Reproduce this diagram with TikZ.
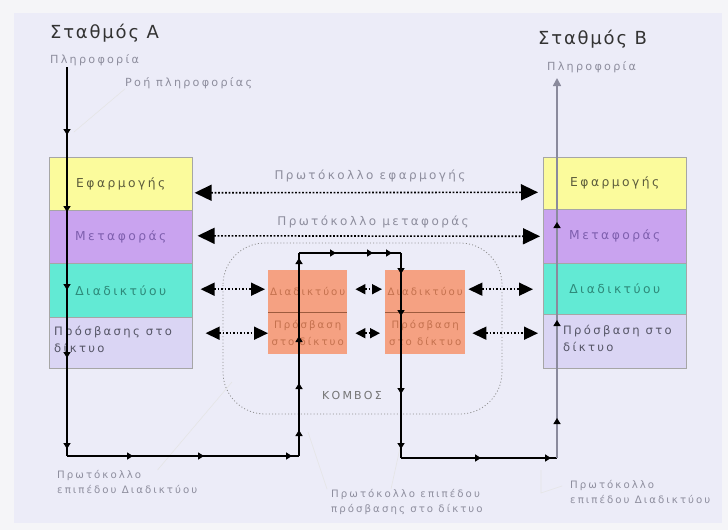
\documentclass[tikz,border=0pt]{standalone}
\usepackage{fontspec}
\setmainfont{DejaVu Sans}
\newfontfamily\lbl{DejaVu Sans}[LetterSpace=20]
\newfontfamily\ttl{DejaVu Sans}[LetterSpace=10]
\usetikzlibrary{arrows.meta,decorations.markings,calc}

\definecolor{pagebg}{HTML}{F5F5F8}
\definecolor{panelbg}{HTML}{ECECF8}
\definecolor{appfill}{HTML}{FBFB9C}
\definecolor{trfill}{HTML}{C9A3EF}
\definecolor{netfill}{HTML}{62EAD4}
\definecolor{accfill}{HTML}{DAD5F4}
\definecolor{nodefill}{HTML}{F5A182}
\definecolor{apptext}{HTML}{5C5C3C}
\definecolor{trtext}{HTML}{7E5FAE}
\definecolor{nettext}{HTML}{2E8A7A}
\definecolor{acctext}{HTML}{555566}
\definecolor{nodetext}{HTML}{C4714E}
\definecolor{softtext}{HTML}{8E8E9E}
\definecolor{flowgray}{HTML}{8A8A9C}

\tikzset{
  layer/.style={draw=black!35, line width=0.6pt, minimum width=143pt, inner sep=0pt,
    anchor=north west, font=\lbl\fontsize{12.3}{14}\selectfont},
  nodebox/.style={fill=nodefill, draw=none, minimum height=42pt, inner sep=0pt,
    anchor=north west, align=center, text=nodetext, font=\lbl\fontsize{10.2}{17}\selectfont},
  acclabel/.style={anchor=north west, align=left, inner sep=0pt, text=acctext,
    font=\lbl\fontsize{11.6}{17}\selectfont},
  note/.style={text=softtext, inner sep=0pt, font=\lbl\fontsize{10.2}{15}\selectfont},
  peerlabel/.style={text=softtext, inner sep=0pt, font=\lbl\fontsize{12}{14}\selectfont},
  title/.style={text=black!80, inner sep=0pt, font=\ttl\fontsize{18}{21}\selectfont},
  bigtip/.tip={Triangle[length=17pt,width=16pt]},
  midtip/.tip={Triangle[length=14pt,width=13pt]},
  smalltip/.tip={Triangle[length=10pt,width=10pt]},
  fm/.tip={Triangle[length=6pt,width=7pt]},
  peer/.style={line width=1.6pt, dash pattern=on 1.6pt off 1.9pt},
  flow/.style={line width=1.6pt, draw=black, postaction={decorate}},
  faint/.style={draw=black!10, line width=0.6pt},
}

\begin{document}
\begin{tikzpicture}[x=1pt,y=-1pt]
  % page and panel
  \fill[pagebg] (0,0) rectangle (728,530);
  \fill[panelbg] (14,13) rectangle (722,523);
  \useasboundingbox (0,0) rectangle (728,530);

  % station A stack
  \node[layer, fill=appfill, minimum height=53pt, text=apptext] (a1) at (49,157) {Εφαρμογής};
  \node[layer, fill=trfill,  minimum height=53pt, text=trtext]  (a2) at (49,210) {Μεταφοράς};
  \node[layer, fill=netfill, minimum height=54pt, text=nettext] (a3) at (49,263) {Διαδικτύου};
  \node[layer, fill=accfill, minimum height=51pt] (a4) at (49,317) {};
  \node[acclabel] (a4t) at (54,326) {Πρόσβασης στο\\δίκτυο};

  % station B stack
  \node[layer, fill=appfill, minimum height=52pt, text=apptext] (b1) at (543,157) {Εφαρμογής};
  \node[layer, fill=trfill,  minimum height=54pt, text=trtext]  (b2) at (543,209) {Μεταφοράς};
  \node[layer, fill=netfill, minimum height=51pt, text=nettext] (b3) at (543,263) {Διαδικτύου};
  \node[layer, fill=accfill, minimum height=54pt] (b4) at (543,314) {};
  \node[acclabel] (b4t) at (563,325) {Πρόσβαση στο\\δίκτυο};

  % router
  \draw[black!45, line width=0.8pt, dash pattern=on 1pt off 2.2pt, rounded corners=42pt]
    (223,243) rectangle (502,414);
  \node[text=black!55, inner sep=0pt, font=\lbl\fontsize{11}{13}\selectfont] (knode) at (352,395) {ΚΟΜΒΟΣ};

  \node[nodebox, minimum width=79pt] (c1) at (268,270) {Διαδικτύου};
  \node[nodebox, minimum width=79pt] (c2) at (268,312) {Πρόσβαση\\στο δίκτυο};
  \node[nodebox, minimum width=80pt] (d1) at (385,270) {Διαδικτύου};
  \node[nodebox, minimum width=80pt] (d2) at (385,312) {Πρόσβαση\\στο δίκτυο};
  \draw[nodetext!80!black, line width=0.8pt] (c1.south west) -- (c1.south east);
  \draw[nodetext!80!black, line width=0.8pt] (d1.south west) -- (d1.south east);

  % titles and notes
  \node[title, anchor=west] (sta) at (50,33) {Σταθμός Α};
  \node[title, anchor=west] (stb) at (538,39) {Σταθμός Β};
  \node[note, anchor=west, font=\lbl\fontsize{11.2}{13}\selectfont] (infa) at (50,60) {Πληροφορία};
  \node[note, anchor=west, font=\lbl\fontsize{11.2}{13}\selectfont] (infb) at (547,67) {Πληροφορία};
  \node[note, anchor=west, font=\lbl\fontsize{11.2}{13}\selectfont] (rflow) at (125,83) {Ροή πληροφορίας};
  \node[peerlabel, anchor=south] (papp) at (370,182) {Πρωτόκολλο εφαρμογής};
  \node[peerlabel, anchor=south] (ptr) at (373,228) {Πρωτόκολλο μεταφοράς};
  \node[note, anchor=north west, align=left] (pnet1) at (57,470) {Πρωτόκολλο\\επιπέδου Διαδικτύου};
  \node[note, anchor=north west, align=left] (pacc) at (331,489) {Πρωτόκολλο επιπέδου\\πρόσβασης στο δίκτυο};
  \node[note, anchor=north west, align=left] (pnet2) at (570,480) {Πρωτόκολλο\\επιπέδου Διαδικτύου};

  % faint callout lines
  \draw[faint] (rflow.south west) -- (74,132);
  \draw[faint] ([xshift=-40pt]pnet1.north east) -- (232,382);
  \draw[faint] ([xshift=-4pt]pacc.north west) -- (308,432);
  \draw[faint] ([xshift=60pt]pacc.north west) -- (400,448);
  \draw[faint] ([xshift=-8pt,yshift=-6pt]pnet2.north west) -- (541,493) -- (541,470);

  % peer protocol arrows
  \draw[peer, {bigtip}-{bigtip}] ($(a1.east)+(2,9)$) -- ($(b1.west)+(-5,9)$);
  \draw[peer, {bigtip}-{bigtip}] ($(a2.east)+(5,-1)$) -- ($(b2.west)+(-3,0)$);
  \draw[peer, {midtip}-{midtip}] ($(a3.east |- c1.west)+(8,-2)$) -- ($(c1.west)+(-3,-2)$);
  \draw[peer, {smalltip}-{smalltip}] ($(c1.east)+(8,-2)$) -- ($(d1.west)+(-3,-2)$);
  \draw[peer, {midtip}-{midtip}] ($(d1.east)+(3,-2)$) -- ($(b3.west |- d1.east)+(-10,-2)$);
  \draw[peer, {midtip}-{midtip}] ($(a4.east |- c2.west)+(13,0)$) -- ($(c2.west)+(0,0)$);
  \draw[peer, {smalltip}-{smalltip}] ($(c2.east)+(8,0)$) -- ($(d2.west)+(-5,0)$);
  \draw[peer, {midtip}-{midtip}] ($(d2.east)+(7,0)$) -- ($(b4.west |- d2.east)+(-5,0)$);

  % information flow path
  \coordinate (f0) at (67,67);
  \coordinate (f1) at (67,456);
  \coordinate (f2) at (299,456);
  \coordinate (f3) at (299,253);
  \coordinate (f4) at (401,253);
  \coordinate (f5) at (401,458);
  \coordinate (f6) at (557,458);
  \coordinate (f7) at (557,78);

  \draw[flow, decoration={markings,
      mark=at position 68pt with {\arrow{fm}},
      mark=at position 145pt with {\arrow{fm}},
      mark=at position 223pt with {\arrow{fm}},
      mark=at position 291pt with {\arrow{fm}},
      mark=at position 382pt with {\arrow{fm}}}] (f0) -- (f1);
  \draw[flow, decoration={markings,
      mark=at position 66pt with {\arrow{fm}},
      mark=at position 137pt with {\arrow{fm}},
      mark=at position 225pt with {\arrow{fm}}}] (f1) -- (f2);
  \draw[flow, decoration={markings,
      mark=at position 26pt with {\arrow{fm}},
      mark=at position 73pt with {\arrow{fm}},
      mark=at position 120pt with {\arrow{fm}},
      mark=at position 198pt with {\arrow{fm}}}] (f2) -- (f3);
  \draw[flow, decoration={markings,
      mark=at position 37pt with {\arrow{fm}},
      mark=at position 74pt with {\arrow{fm}},
      mark=at position 93pt with {\arrow{fm}}}] (f3) -- (f4);
  \draw[flow, decoration={markings,
      mark=at position 21pt with {\arrow{fm}},
      mark=at position 63pt with {\arrow{fm}},
      mark=at position 141pt with {\arrow{fm}},
      mark=at position 196pt with {\arrow{fm}}}] (f4) -- (f5);
  \draw[flow, decoration={markings,
      mark=at position 80pt with {\arrow{fm}},
      mark=at position 150pt with {\arrow{fm}}}] (f5) -- (f6);
  \draw[flow, draw=flowgray, -{Triangle[length=8pt,width=8pt]},
    decoration={markings,
      mark=at position 40pt with {\arrow[black]{fm}},
      mark=at position 138pt with {\arrow[black]{fm}},
      mark=at position 236pt with {\arrow[black]{fm}}}] (f6) -- (f7);
\end{tikzpicture}
\end{document}
